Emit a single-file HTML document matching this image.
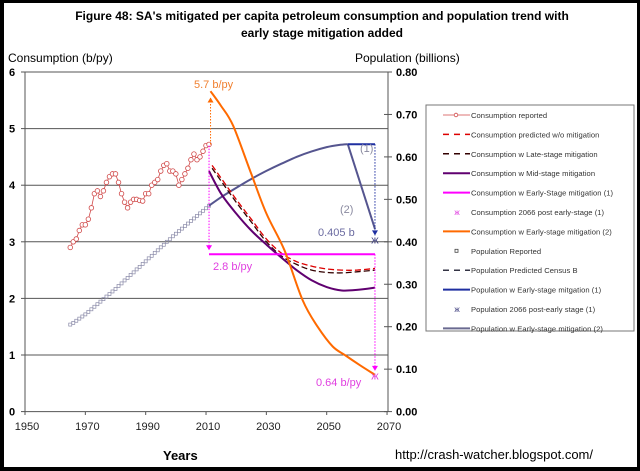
<!DOCTYPE html>
<html><head><meta charset="utf-8">
<style>
body{margin:0;background:#000;}
#wrap{position:relative;width:640px;height:471px;overflow:hidden;}
svg{position:absolute;left:0;top:0;}
text{font-family:"Liberation Sans",Arial,sans-serif;}
</style></head>
<body>
<div id="wrap">
<svg id="chart" width="640" height="471" viewBox="0 0 640 471">
<rect x="4" y="3" width="633" height="464" fill="#fff"/>
<text x="322" y="20" text-anchor="middle" font-size="12" font-weight="bold">Figure 48: SA's mitigated  per capita petroleum consumption and population trend with</text>
<text x="322" y="37" text-anchor="middle" font-size="12" font-weight="bold">early stage mitigation added</text>
<text x="8" y="62" font-size="12">Consumption (b/py)</text>
<text x="355" y="62" font-size="12">Population (billions)</text>
<text x="163" y="460" font-size="13" font-weight="bold">Years</text>
<text x="395" y="459" font-size="13">http://crash-watcher.blogspot.com/</text>
<g id="grid"></g><g id="axes"></g><g id="series"></g><g id="notes"></g>
<g id="legend"></g>
</svg>
</div>
<script>
const xTicks=[1950,1970,1990,2010,2030,2050,2070];
const yTicks=[0,1,2,3,4,5,6];
const popTicks=[0,0.1,0.2,0.3,0.4,0.5,0.6,0.7,0.8];
const consYears=[1965,1966,1967,1968,1969,1970,1971,1972,1973,1974,1975,1976,1977,1978,1979,1980,1981,1982,1983,1984,1985,1986,1987,1988,1989,1990,1991,1992,1993,1994,1995,1996,1997,1998,1999,2000,2001,2002,2003,2004,2005,2006,2007,2008,2009,2010,2011];
const consReported=[2.9,3.0,3.05,3.2,3.3,3.3,3.4,3.6,3.85,3.9,3.8,3.9,4.05,4.15,4.2,4.2,4.05,3.85,3.7,3.6,3.7,3.75,3.75,3.73,3.72,3.85,3.85,4.0,4.05,4.1,4.25,4.35,4.38,4.25,4.25,4.2,4.0,4.1,4.2,4.3,4.45,4.55,4.45,4.5,4.6,4.7,4.72];
const predYears=[2012,2016,2020,2025,2030,2035,2040,2045,2050,2055,2060,2066];
const consNoMit=[4.35,4.05,3.75,3.4,3.05,2.8,2.65,2.57,2.52,2.5,2.5,2.53];
const consLate=[4.3,4.0,3.7,3.35,3.0,2.75,2.6,2.5,2.46,2.45,2.47,2.5];
const midYears=[2011,2015,2020,2025,2030,2035,2040,2045,2050,2055,2060,2066];
const consMid=[4.25,3.85,3.5,3.2,2.95,2.72,2.5,2.32,2.2,2.14,2.15,2.19];
const earlyYears=[2011,2066];
const consEarly1=[2.78,2.78];
const orangeYears=[2011.5,2015,2019,2025,2030,2036,2042,2047,2052,2056,2061,2066];
const consEarly2=[5.66,5.4,5.05,4.2,3.5,2.85,1.97,1.5,1.15,1.0,0.82,0.65];
const consPost=[2066,0.64];
const popYears=consYears;
const popReported=[0.205,0.209,0.214,0.219,0.224,0.229,0.235,0.241,0.247,0.253,0.259,0.265,0.271,0.277,0.283,0.289,0.296,0.302,0.309,0.315,0.322,0.328,0.335,0.341,0.348,0.354,0.361,0.367,0.374,0.380,0.387,0.393,0.400,0.406,0.413,0.419,0.425,0.431,0.437,0.443,0.449,0.455,0.461,0.467,0.473,0.479,0.485];
const pop2Years=[2011,2015,2020,2025,2030,2035,2040,2045,2050,2054,2057];
const popEarly2=[0.485,0.505,0.527,0.548,0.567,0.584,0.600,0.613,0.623,0.628,0.630];
const popDropYears=[2057,2066];
const popDrop=[0.630,0.43];
const pop1Years=[2057,2066];
const popEarly1=[0.630,0.630];
const popPost=[2066,0.405];

const X=y=>25+(y-1950)*3.017;
const Y=v=>411.6-v*56.6;
const P=v=>411.6-v*(339.6/0.8);
const NS='http://www.w3.org/2000/svg';
function mk(tag,attrs,parent){const e=document.createElementNS(NS,tag);for(const k in attrs)e.setAttribute(k,attrs[k]);document.getElementById(parent).appendChild(e);return e;}
function pts(xs,ys,f){return xs.map((x,i)=>X(x).toFixed(1)+','+f(ys[i]).toFixed(1)).join(' ');}
function smooth(xs,ys,f){
  const p=xs.map((x,i)=>[X(x),f(ys[i])]);
  let d='M'+p[0][0].toFixed(1)+','+p[0][1].toFixed(1);
  for(let i=0;i<p.length-1;i++){
    const p0=p[i-1]||p[i],p1=p[i],p2=p[i+1],p3=p[i+2]||p2;
    const c1=[p1[0]+(p2[0]-p0[0])/6,p1[1]+(p2[1]-p0[1])/6];
    const c2=[p2[0]-(p3[0]-p1[0])/6,p2[1]-(p3[1]-p1[1])/6];
    d+=' C'+c1.map(v=>v.toFixed(1)).join(',')+' '+c2.map(v=>v.toFixed(1)).join(',')+' '+p2[0].toFixed(1)+','+p2[1].toFixed(1);
  }
  return d;
}

yTicks.forEach(t=>{
  if(t>0){const g=mk('line',{x1:25,x2:388,y1:Y(t),y2:Y(t),stroke:'#555','stroke-width':1},'grid');
  
  }
  const l=mk('line',{x1:21,x2:25,y1:Y(t),y2:Y(t),stroke:'#555'},'axes');
  
  
  const tx=mk('text',{x:9,y:Y(t)+4,'font-size':11,'font-weight':'bold'},'axes');tx.textContent=t;
  
  
});
popTicks.forEach(t=>{
  const l=mk('line',{x1:384,x2:392,y1:P(t),y2:P(t),stroke:'#555'},'axes');
  
  
  const tx=mk('text',{x:396,y:P(t)+4,'font-size':11,'font-weight':'bold'},'axes');tx.textContent=t.toFixed(2);
  
  
});
xTicks.forEach(t=>{
  const l=mk('line',{x1:X(t),x2:X(t),y1:411.6,y2:415,stroke:'#555'},'axes');
  
  
  const tx=mk('text',{x:X(t)+2,y:430,'font-size':11,'text-anchor':'middle',fill:'#222'},'axes');tx.textContent=t;
  
  
});
let a=mk('line',{x1:25,x2:25,y1:Y(6),y2:411.6,stroke:'#555'},'axes');


a=mk('line',{x1:388,x2:388,y1:Y(6),y2:411.6,stroke:'#555'},'axes');


a=mk('line',{x1:25,x2:388,y1:411.6,y2:411.6,stroke:'#555'},'axes');



popYears.forEach((y,i)=>{const r=mk('rect',{x:X(y)-1.5,y:P(popReported[i])-1.5,width:3,height:3,fill:'none',stroke:'#8a8aa8','stroke-width':0.7},'series');

});
let s=mk('path',{d:smooth(pop2Years,popEarly2,P),fill:'none',stroke:'#55558f','stroke-width':2},'series');


s=mk('polyline',{points:pts(popDropYears,popDrop,P),fill:'none',stroke:'#55558f','stroke-width':2},'series');


s=mk('polyline',{points:pts(pop1Years,popEarly1,P),fill:'none',stroke:'#1f2fa0','stroke-width':2},'series');


s=mk('polyline',{points:pts(consYears,consReported,Y),fill:'none',stroke:'#d04848','stroke-width':0.8},'series');


consYears.forEach((y,i)=>{const c=mk('circle',{cx:X(y),cy:Y(consReported[i]),r:2.3,fill:'#fff',stroke:'#d04848','stroke-width':0.8},'series');

});
s=mk('path',{d:smooth(predYears,consLate,Y),fill:'none',stroke:'#300','stroke-width':1.3,'stroke-dasharray':'6,3'},'series');


s=mk('path',{d:smooth(predYears,consNoMit,Y),fill:'none',stroke:'#d00','stroke-width':1.3,'stroke-dasharray':'6,3'},'series');


s=mk('path',{d:smooth(midYears,consMid,Y),fill:'none',stroke:'#600070','stroke-width':2},'series');


s=mk('polyline',{points:pts(earlyYears,consEarly1,Y),fill:'none',stroke:'#ff00ff','stroke-width':2},'series');


s=mk('path',{d:smooth(orangeYears,consEarly2,Y),fill:'none',stroke:'#ff6a00','stroke-width':2},'series');


function arrow(x,y1,y2,col,name){
  const l=mk('line',{x1:x,x2:x,y1:y1,y2:y2,stroke:col,'stroke-width':1,'stroke-dasharray':'1.5,1.5'},'notes');
  
  
  const d=y2>y1?-1:1;
  const h=mk('polygon',{points:`${x-3},${y2+d*5} ${x+3},${y2+d*5} ${x},${y2}`,fill:col},'notes');
  
  
}
arrow(X(2011.5),Y(4.72),Y(5.55),'#ff6a00','orange-arrow');
arrow(X(2011),Y(4.7),Y(2.85),'#ff00ff','magenta-arrow-2011');
arrow(X(2066),Y(2.78),Y(0.72),'#ff00ff','magenta-arrow-2066');
arrow(X(2066),P(0.63),P(0.415),'#1f2fa0','blue-arrow-2066');
function star(x,y,col,name){const t=mk('text',{x:x,y:y+4,'font-size':11,'text-anchor':'middle',fill:col},'notes');t.textContent='ж';

}
star(X(consPost[0]),Y(consPost[1]),'#e040e0','consumption-2066-marker');
star(X(popPost[0]),P(popPost[1]),'#404080','population-2066-marker');
function note(x,y,txt,col,name){const t=mk('text',{x:x,y:y,'font-size':11,fill:col},'notes');t.textContent=txt;

}
note(194,88,'5.7 b/py','#f08030','label-5-7');
note(213,270,'2.8 b/py','#e040e0','label-2-8');
note(316,386,'0.64 b/py','#e040e0','label-0-64');
note(318,236,'0.405 b','#6a6aa0','label-0-405');
note(360,152,'(1)','#8a8aa0','label-1');
note(340,213,'(2)','#8a8aa0','label-2');

const legendLabels=['Consumption reported','Consumption predicted w/o mitigation','Consumption w Late-stage mitigation','Consumption w Mid-stage mitigation','Consumption w Early-Stage mitigation (1)','Consumption 2066 post early-stage (1)','Consumption w Early-stage mitigation (2)','Population Reported','Population Predicted Census B','Population w Early-stage mitgation (1)','Population 2066 post-early stage (1)','Population w Early-stage mitigation (2)'];
let lb=mk('rect',{x:426,y:105,width:208,height:226,fill:'#fff',stroke:'#777','stroke-width':1},'legend');


const kinds=[['c','#d04848'],['d','#d00'],['d','#300'],['s','#600070'],['s','#ff00ff'],['x','#e040e0'],['s','#ff6a00'],['q','#444'],['d','#334'],['s','#1f2fa0'],['x','#404080'],['s','#6a6a90']];
legendLabels.forEach((lab,i)=>{
  const y=115+i*19.4;const [k,c]=kinds[i];
  let m;
  if(k==='c'){mk('line',{x1:443,x2:470,y1:y,y2:y,stroke:c,'stroke-width':0.8},'legend');m=mk('circle',{cx:456,cy:y,r:1.8,fill:'#fff',stroke:c,'stroke-width':0.8},'legend');}
  else if(k==='d'){m=mk('line',{x1:443,x2:470,y1:y,y2:y,stroke:c,'stroke-width':1.5,'stroke-dasharray':'6,5'},'legend');}
  else if(k==='s'){m=mk('line',{x1:443,x2:470,y1:y,y2:y,stroke:c,'stroke-width':2},'legend');}
  else if(k==='x'){m=mk('text',{x:457,y:y+3,'font-size':8,'text-anchor':'middle',fill:c},'legend');m.textContent='ж';}
  else {m=mk('rect',{x:455,y:y-1.5,width:3,height:3,fill:'none',stroke:c,'stroke-width':0.8},'legend');}
  
  
  const t=mk('text',{x:471,y:y+3,'font-size':7.6,'letter-spacing':'0.05',fill:'#333'},'legend');t.textContent=lab;
  
  
});
</script>
</body></html>
